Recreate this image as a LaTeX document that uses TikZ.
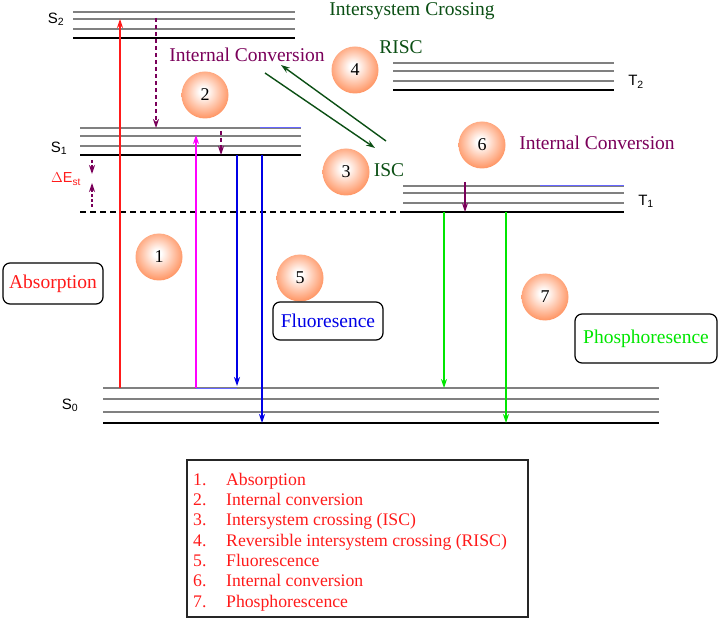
\documentclass[tikz,border=0pt]{standalone}
\usepackage{fontspec}
\setmainfont{Liberation Serif}
\newfontfamily\lsans{Liberation Sans}
\usetikzlibrary{arrows.meta}
\definecolor{myred}{HTML}{FF1A1A}
\definecolor{mymag}{HTML}{FF00FF}
\definecolor{myblue}{HTML}{0000E6}
\definecolor{mygreen}{HTML}{00E600}
\definecolor{mypurple}{HTML}{7A005A}
\definecolor{dgreen}{HTML}{0B4F14}
\definecolor{lgray}{HTML}{808080}
\definecolor{ballor}{HTML}{FF7433}
\pgfdeclareradialshading{orball}{\pgfpoint{-2bp}{4bp}}{color(0bp)=(white); color(4bp)=(white); color(16bp)=(ballor!40!white); color(30bp)=(ballor!85!white); color(46bp)=(ballor); color(50bp)=(ballor!92!red); color(70bp)=(ballor!92!red)}
\tikzset{
  glev/.style={draw=lgray, line width=1.3pt},
  blev/.style={draw=black, line width=1.6pt},
  arr/.style={line width=1.2pt, -{Stealth[length=9pt,width=6pt]}},
  ball/.style={circle, minimum size=47pt, inner sep=0pt, shading=orball, font=\fontsize{18}{18}\selectfont},
  lab/.style={font=\fontsize{19.5}{22}\selectfont, inner sep=0pt},
  levlab/.style={font=\lsans\fontsize{15}{17}\selectfont, inner sep=0pt},
  tbox/.style={draw=black, line width=1.2pt, rounded corners=7pt, font=\fontsize{19.5}{22}\selectfont, inner sep=0pt},
  legtxt/.style={anchor=base west, text=myred, font=\fontsize{17.7}{20}\selectfont, inner sep=0pt},
}
\begin{document}
\begin{tikzpicture}[x=1pt,y=-1pt]
\useasboundingbox (0,0) rectangle (720,620);
% ---- levels ----
% S2
\foreach \y in {12,19,29} \draw[glev] (73,\y) -- (295,\y);
\draw[blev] (73,38) -- (295,38);
% S1
\foreach \y in {128,136,146} \draw[glev] (80,\y) -- (301,\y);
\draw[draw=blue!60, line width=1.0pt] (260,128) -- (301,128);
\draw[blev] (80,155) -- (301,155);
% T2
\foreach \y in {63,71,81} \draw[glev] (393,\y) -- (614,\y);
\draw[blev] (393,90) -- (614,90);
% T1
\foreach \y in {186,193,203} \draw[glev] (403,\y) -- (624,\y);
\draw[draw=blue!60, line width=1.0pt] (540,186) -- (624,186);
\draw[blev] (403,212) -- (624,212);
% dashed
\draw[black, line width=1.3pt, dash pattern=on 6pt off 4pt] (80,212) -- (403,212);
% S0
\foreach \y in {388,399,412} \draw[glev] (103,\y) -- (659,\y);
\draw[draw=blue!60, line width=1.0pt] (196,388) -- (237,388);
\draw[blev] (103,423) -- (659,423);
% level labels
\node[levlab] (lS2) at (56,19) {S\textsubscript{2}};
\node[levlab] (lS1) at (59,148) {S\textsubscript{1}};
\node[levlab] (lT2) at (636,82) {T\textsubscript{2}};
\node[levlab] (lT1) at (646,201) {T\textsubscript{1}};
\node[levlab] (lS0) at (70,405) {S\textsubscript{0}};
\node[levlab, text=myred, font=\lsans\fontsize{14.5}{16}\selectfont] (dE) at (66,179) {$\Delta$E\textsubscript{st}};
% ---- coordinates ----
\coordinate (a1s) at (120,388); \coordinate (a1e) at (120,19);
\coordinate (a2s) at (196,388); \coordinate (a2e) at (196,135);
\coordinate (f1s) at (237,155); \coordinate (f1e) at (237,386);
\coordinate (f2s) at (262,155); \coordinate (f2e) at (262,423);
\coordinate (p1s) at (444,212); \coordinate (p1e) at (444,388);
\coordinate (p2s) at (506,212); \coordinate (p2e) at (506,423);
\coordinate (ic1s) at (156,18); \coordinate (ic1e) at (156,128);
\coordinate (ic2s) at (221,131); \coordinate (ic2e) at (221,155);
\coordinate (ic3s) at (465,182); \coordinate (ic3e) at (465,212);
\coordinate (de1s) at (92,160); \coordinate (de1e) at (92,174);
\coordinate (de2s) at (92,207); \coordinate (de2e) at (92,183);
\coordinate (iscs) at (265,73); \coordinate (isce) at (375,148);
\coordinate (riscs) at (386,141); \coordinate (risce) at (281,65);
% ---- arrows ----
\draw[arr, myred] (a1s) -- (a1e);
\draw[arr, mymag] (a2s) -- (a2e);
\draw[arr, myblue] (f1s) -- (f1e);
\draw[arr, myblue] (f2s) -- (f2e);
\draw[arr, mygreen] (p1s) -- (p1e);
\draw[arr, mygreen] (p2s) -- (p2e);
\draw[arr, mypurple, dash pattern=on 4pt off 3pt] (ic1s) -- (ic1e);
\draw[arr, mypurple, dash pattern=on 4pt off 3pt] (ic2s) -- (ic2e);
\draw[arr, mypurple] (ic3s) -- (ic3e);
\draw[arr, mypurple, dash pattern=on 3pt off 2pt] (de1s) -- (de1e);
\draw[arr, mypurple, dash pattern=on 3pt off 2pt] (de2s) -- (de2e);
\draw[arr, dgreen, line width=1.4pt] (iscs) -- (isce);
\draw[arr, dgreen, line width=1.4pt] (riscs) -- (risce);
% ---- balls ----
\node[ball] (b1) at (159,257) {1};
\node[ball] (b2) at (205,95) {2};
\node[ball] (b3) at (346,172) {3};
\node[ball] (b4) at (355,70) {4};
\node[ball] (b5) at (300,278) {5};
\node[ball] (b6) at (482,145) {6};
\node[ball] (b7) at (545,297) {7};
% ---- labels ----
\node[lab, text=dgreen] (tisc) at (412,11) {Intersystem Crossing};
\node[lab, text=mypurple] (tic1) at (247,55) {Internal Conversion};
\node[lab, text=dgreen] (trisc) at (401,47) {RISC};
\node[lab, text=dgreen] (tisc2) at (389,170) {ISC};
\node[lab, text=mypurple] (tic2) at (597,143) {Internal Conversion};
% ---- boxes ----
\node[tbox, text=myred, minimum width=100pt, minimum height=41pt] (babs) at (53,283.5) {Absorption};
\node[tbox, text=myblue, minimum width=110pt, minimum height=38pt] (bflu) at (328,321) {Fluoresence};
\node[tbox, text=mygreen, minimum width=142pt, minimum height=49pt] (bpho) at (646,338.5) {Phosphoresence};
% ---- legend ----
\node[draw=black!85, line width=1.4pt, minimum width=341pt, minimum height=157pt, inner sep=0pt] (leg) at (357.5,538.5) {};
\foreach \n/\t/\y in {1/Absorption/485, 2/Internal conversion/505.3, 3/Intersystem crossing (ISC)/525.6, 4/Reversible intersystem crossing (RISC)/546, 5/Fluorescence/566.3, 6/Internal conversion/586.6, 7/Phosphorescence/607}{
  \node[legtxt] at (193,\y) {\n.};
  \node[legtxt] at (226,\y) {\t};
}
\end{tikzpicture}
\end{document}
